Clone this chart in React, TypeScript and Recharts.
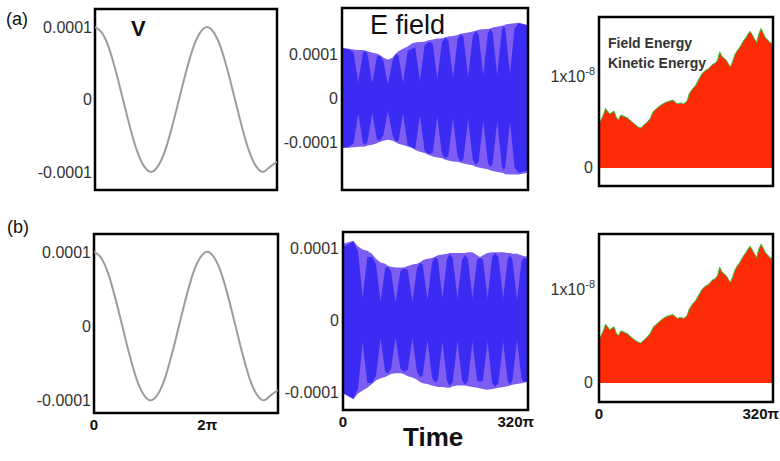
import React from 'react';
import { ComposedChart, Area, Line, XAxis, YAxis, ReferenceArea } from 'recharts';

const FONT = "'Liberation Sans', Arial, Helvetica, sans-serif";

// ---------- V panels (time in units of pi, V in units of 1e-4) ----------
const vTime = [0, 0.125, 0.25, 0.375, 0.5, 0.625, 0.75, 0.875, 1, 1.125, 1.25, 1.375, 1.5, 1.625, 1.75, 1.875, 2, 2.125, 2.25, 2.375, 2.5, 2.625, 2.75, 2.875, 3, 3.125, 3.25];
const vValueA = [1.0, 0.92, 0.71, 0.38, 0.0, -0.38, -0.71, -0.92, -1.0, -0.92, -0.71, -0.38, 0.0, 0.38, 0.71, 0.92, 1.0, 0.92, 0.71, 0.38, 0.0, -0.38, -0.71, -0.92, -1.0, -0.93, -0.86];
const vValueB = [1.0, 0.92, 0.71, 0.38, 0.0, -0.38, -0.71, -0.92, -1.0, -0.92, -0.71, -0.38, 0.0, 0.38, 0.71, 0.92, 1.0, 0.92, 0.71, 0.38, 0.0, -0.38, -0.71, -0.92, -1.0, -0.93, -0.86];
const vYTicks = [-1, 0, 1];
const vYLabels = ['-0.0001', '0', '0.0001'];
const vXTicks = [0, 2];
const vXLabels = ['0', '2π'];

// ---------- E field panels (time in units of pi, E in units of 1e-4) ----------
const eTimeA = [0, 12, 20, 28, 36, 40, 44, 52, 60, 65, 71, 79, 87, 92, 97, 105, 113, 120, 126, 134, 142, 149, 156, 164, 172, 178, 183, 191, 199, 204, 209, 217, 225, 230, 235, 243, 251, 255, 259, 267, 275, 278, 281, 289, 297, 304, 320];
const eUpperA = [1.14, 1.12, 1.1, 1.09, 1.09, 1.08, 1.06, 1.03, 1.01, 0.98, 0.92, 0.87, 0.92, 1.0, 1.06, 1.12, 1.17, 1.24, 1.26, 1.27, 1.28, 1.31, 1.33, 1.35, 1.36, 1.38, 1.4, 1.41, 1.43, 1.46, 1.47, 1.49, 1.51, 1.53, 1.55, 1.56, 1.57, 1.58, 1.6, 1.62, 1.64, 1.65, 1.67, 1.69, 1.7, 1.71, 1.66];
const eLowerA = [-1.14, -1.13, -1.12, -1.11, -1.11, -1.1, -1.08, -1.06, -1.03, -1.0, -0.97, -0.95, -0.97, -1.0, -1.04, -1.07, -1.1, -1.13, -1.18, -1.22, -1.25, -1.29, -1.33, -1.35, -1.37, -1.4, -1.42, -1.44, -1.45, -1.47, -1.49, -1.51, -1.53, -1.56, -1.58, -1.6, -1.62, -1.64, -1.66, -1.68, -1.7, -1.71, -1.73, -1.74, -1.74, -1.74, -1.7];
const eCoreA = [1.13, 1.11, 1.03, 0.36, 1.02, 1.07, 0.99, 0.34, 0.94, 0.97, 0.85, 0.3, 0.85, 0.99, 0.98, 0.35, 1.07, 1.12, 1.15, 0.39, 1.19, 1.28, 1.24, 0.43, 1.27, 1.37, 1.31, 0.46, 1.34, 1.45, 1.38, 0.48, 1.41, 1.52, 1.45, 0.51, 1.47, 1.57, 1.5, 0.52, 1.54, 1.64, 1.57, 0.54, 1.59, 1.7, 1.65];

const eTimeB = [0, 18, 26, 34, 42, 50, 57, 65, 73, 78, 83, 91, 99, 105, 112, 120, 128, 133, 138, 146, 154, 159, 164, 172, 180, 185, 190, 198, 206, 211, 216, 224, 232, 237, 242, 250, 258, 263, 269, 277, 285, 289, 293, 301, 309, 312, 320];
const eUpperB = [1.06, 1.1, 1.02, 0.98, 0.96, 0.92, 0.85, 0.8, 0.78, 0.75, 0.74, 0.73, 0.73, 0.73, 0.75, 0.77, 0.78, 0.8, 0.83, 0.85, 0.86, 0.88, 0.9, 0.91, 0.92, 0.93, 0.93, 0.93, 0.93, 0.93, 0.94, 0.94, 0.9, 0.87, 0.9, 0.93, 0.94, 0.94, 0.94, 0.94, 0.93, 0.93, 0.92, 0.92, 0.9, 0.89, 0.88];
const eLowerB = [-1.02, -1.1, -1.02, -0.98, -0.94, -0.89, -0.84, -0.81, -0.79, -0.77, -0.75, -0.74, -0.74, -0.75, -0.78, -0.8, -0.83, -0.86, -0.88, -0.89, -0.91, -0.92, -0.93, -0.93, -0.94, -0.94, -0.92, -0.91, -0.91, -0.91, -0.92, -0.93, -0.94, -0.95, -0.96, -0.97, -0.96, -0.95, -0.94, -0.93, -0.92, -0.91, -0.9, -0.89, -0.88, -0.87, -0.86];
const eCoreB = [1.01, 1.09, 0.95, 0.31, 0.87, 0.88, 0.78, 0.26, 0.72, 0.74, 0.68, 0.24, 0.67, 0.72, 0.69, 0.25, 0.72, 0.79, 0.77, 0.28, 0.8, 0.87, 0.84, 0.3, 0.85, 0.92, 0.85, 0.29, 0.84, 0.9, 0.85, 0.3, 0.84, 0.86, 0.84, 0.3, 0.87, 0.93, 0.87, 0.3, 0.85, 0.9, 0.84, 0.28, 0.82, 0.86, 0.85];

const eYTicks = [-1, 0, 1];
const eYLabels = ['-0.0001', '0', '0.0001'];
const timeTicks = [0, 320];
const timeLabels = ['0', '320π'];

// ---------- Energy panels (time in units of pi, energy in units of 1e-8) ----------
const energyTime = [0, 4, 8, 12, 16, 20, 24, 28, 32, 36, 40, 44, 48, 52, 56, 60, 66, 72, 77, 82, 88, 94, 100, 106, 112, 118, 124, 130, 136, 140, 144, 150, 156, 162, 166, 172, 178, 184, 190, 196, 202, 208, 214, 218, 222, 226, 230, 234, 238, 242, 246, 250, 254, 258, 262, 266, 270, 274, 278, 282, 286, 290, 294, 298, 302, 306, 310, 314, 320];
const kineticA = [0.48, 0.52, 0.57, 0.64, 0.61, 0.58, 0.6, 0.61, 0.54, 0.52, 0.57, 0.56, 0.55, 0.54, 0.52, 0.5, 0.47, 0.44, 0.43, 0.46, 0.49, 0.53, 0.61, 0.64, 0.67, 0.69, 0.71, 0.72, 0.73, 0.71, 0.69, 0.7, 0.69, 0.72, 0.8, 0.85, 0.89, 0.96, 1.02, 1.05, 1.07, 1.11, 1.13, 1.16, 1.25, 1.2, 1.18, 1.16, 1.12, 1.09, 1.15, 1.22, 1.26, 1.29, 1.33, 1.37, 1.4, 1.44, 1.47, 1.43, 1.39, 1.35, 1.44, 1.5, 1.45, 1.4, 1.38, 1.35, 1.34];
const kineticB = [0.46, 0.5, 0.55, 0.62, 0.59, 0.56, 0.58, 0.59, 0.52, 0.5, 0.55, 0.54, 0.53, 0.52, 0.5, 0.48, 0.45, 0.43, 0.42, 0.45, 0.48, 0.52, 0.59, 0.62, 0.65, 0.68, 0.7, 0.71, 0.72, 0.7, 0.68, 0.69, 0.68, 0.71, 0.78, 0.83, 0.87, 0.93, 0.99, 1.02, 1.04, 1.08, 1.1, 1.13, 1.22, 1.17, 1.15, 1.13, 1.09, 1.06, 1.12, 1.19, 1.23, 1.26, 1.3, 1.34, 1.37, 1.41, 1.44, 1.4, 1.36, 1.32, 1.41, 1.46, 1.42, 1.37, 1.35, 1.32, 1.31];
const energyTicks = [0, 1];

// ---------- tables ----------
const vDataA = vTime.map((t, i) => ({ t, v: vValueA[i] }));
const vDataB = vTime.map((t, i) => ({ t, v: vValueB[i] }));
const eDataA = eTimeA.map((t, i) => ({ t, env: [eLowerA[i], eUpperA[i]], core: [-eCoreA[i], eCoreA[i]] }));
const eDataB = eTimeB.map((t, i) => ({ t, env: [eLowerB[i], eUpperB[i]], core: [-eCoreB[i], eCoreB[i]] }));
const enDataA = energyTime.map((t, i) => ({ t, k: kineticA[i] }));
const enDataB = energyTime.map((t, i) => ({ t, k: kineticB[i] }));

const label = (ticks: number[], labels: string[], v: number) => {
  const i = ticks.indexOf(v);
  return i >= 0 ? labels[i] : '';
};

type Frame = { x: number; y: number; w: number; h: number };
const Y_W = 62;
const M = { top: 4, right: 10, bottom: 2, left: 0 };

const boxStyle = (f: Frame): React.CSSProperties => ({
  position: 'absolute',
  left: f.x - Y_W,
  top: f.y - M.top,
});
const chartW = (f: Frame) => Y_W + f.w + M.right;
const chartH = (f: Frame, xh: number) => M.top + f.h + xh + M.bottom;

const makeXTick = (ticks: number[], labels: string[], last: number) => (props: any) => {
  const { x, y, payload } = props;
  const isLast = payload.value === last;
  return (
    <text
      x={isLast ? x + 6 : x}
      y={y}
      dy="0.71em"
      textAnchor={isLast ? 'end' : 'middle'}
      fontSize={15}
      fontWeight="bold"
      fill="#111"
      fontFamily={FONT}
    >
      {label(ticks, labels, payload.value)}
    </text>
  );
};

const EnergyYTick = (props: any) => {
  const { x, y, payload } = props;
  if (payload.value === 0) {
    return (
      <text x={x - 2} y={y} dy={5} textAnchor="end" fontSize={16} fill="#333" fontFamily={FONT}>0</text>
    );
  }
  return (
    <text x={x} y={y} dy={7} textAnchor="end" fontSize={16} fill="#333" fontFamily={FONT}>
      1x10<tspan dy={-7} fontSize={11}>-8</tspan>
    </text>
  );
};

const yTickStyle = { fontSize: 16, fill: '#333', fontFamily: FONT };

function VPanel({ f, data, domain, showX }: { f: Frame; data: any[]; domain: [number, number]; showX: boolean }) {
  const xh = showX ? 24 : 0;
  return (
    <div style={boxStyle(f)}>
      <ComposedChart width={chartW(f)} height={chartH(f, xh)} data={data} margin={M}>
        <XAxis dataKey="t" type="number" domain={[0, 3.25]} allowDataOverflow ticks={vXTicks} hide={!showX} height={xh}
          axisLine={false} tickLine={false} tickSize={0} tickMargin={6} interval={0}
          tick={makeXTick(vXTicks, vXLabels, -999)} />
        <YAxis type="number" domain={domain} allowDataOverflow ticks={vYTicks} width={Y_W} interval={0}
          axisLine={false} tickLine={false} tickSize={0} tickMargin={3} tick={yTickStyle}
          tickFormatter={(v: number) => label(vYTicks, vYLabels, v)} />
        <Line dataKey="v" type="monotone" stroke="#9c9c9c" strokeWidth={2} dot={false} isAnimationActive={false} />
        <ReferenceArea x1={0} x2={3.25} y1={domain[0]} y2={domain[1]} fill="none" stroke="#000" strokeWidth={2.5} />
      </ComposedChart>
    </div>
  );
}

function EPanel({ f, data, domain, showX }: { f: Frame; data: any[]; domain: [number, number]; showX: boolean }) {
  const xh = showX ? 24 : 0;
  return (
    <div style={boxStyle(f)}>
      <ComposedChart width={chartW(f)} height={chartH(f, xh)} data={data} margin={M}>
        <XAxis dataKey="t" type="number" domain={[0, 320]} allowDataOverflow ticks={timeTicks} hide={!showX} height={xh}
          axisLine={false} tickLine={false} tickSize={0} tickMargin={6} interval={0}
          tick={makeXTick(timeTicks, timeLabels, 320)} />
        <YAxis type="number" domain={domain} allowDataOverflow ticks={eYTicks} width={Y_W} interval={0}
          axisLine={false} tickLine={false} tickSize={0} tickMargin={4} tick={yTickStyle}
          tickFormatter={(v: number) => label(eYTicks, eYLabels, v)} />
        <Area dataKey="env" type="linear" fill="#7d5df2" fillOpacity={1} stroke="none" isAnimationActive={false} />
        <Area dataKey="core" type="linear" fill="#3b2cf4" fillOpacity={1} stroke="none" isAnimationActive={false} />
        <ReferenceArea x1={0} x2={320} y1={domain[0]} y2={domain[1]} fill="none" stroke="#000" strokeWidth={2.5} />
      </ComposedChart>
    </div>
  );
}

function EnPanel({ f, data, domain, showX }: { f: Frame; data: any[]; domain: [number, number]; showX: boolean }) {
  const xh = showX ? 24 : 0;
  return (
    <div style={boxStyle(f)}>
      <ComposedChart width={chartW(f)} height={chartH(f, xh)} data={data} margin={M}>
        <XAxis dataKey="t" type="number" domain={[0, 320]} allowDataOverflow ticks={timeTicks} hide={!showX} height={xh}
          axisLine={false} tickLine={false} tickSize={0} tickMargin={6} interval={0}
          tick={makeXTick(timeTicks, timeLabels, 320)} />
        <YAxis type="number" domain={domain} allowDataOverflow ticks={energyTicks} width={Y_W} interval={0}
          axisLine={false} tickLine={false} tickSize={0} tickMargin={4} tick={EnergyYTick} />
        <Area dataKey="k" type="linear" baseValue={0} fill="#ff2a06" fillOpacity={1} stroke="#2fc63c" strokeWidth={1}
          isAnimationActive={false} />
        <ReferenceArea x1={0} x2={320} y1={domain[0]} y2={domain[1]} fill="none" stroke="#000" strokeWidth={2.5} />
      </ComposedChart>
    </div>
  );
}

export default function App() {
  return (
    <div style={{ position: 'absolute', left: 0, top: 0, width: 780, height: 461, overflow: 'hidden', background: '#fff', fontFamily: FONT }}>
      <VPanel f={{ x: 95, y: 9, w: 182, h: 181 }} data={vDataA} domain={[-1.25, 1.25]} showX={false} />
      <VPanel f={{ x: 94, y: 234, w: 184, h: 179 }} data={vDataB} domain={[-1.17, 1.24]} showX={true} />
      <EPanel f={{ x: 342, y: 8, w: 186, h: 182 }} data={eDataA} domain={[-2.09, 2.045]} showX={false} />
      <EPanel f={{ x: 343, y: 232, w: 185, h: 178 }} data={eDataB} domain={[-1.25, 1.222]} showX={true} />
      <EnPanel f={{ x: 599, y: 17, w: 174, h: 169 }} data={enDataA} domain={[-0.194, 1.624]} showX={false} />
      <EnPanel f={{ x: 599, y: 234, w: 174, h: 168 }} data={enDataB} domain={[-0.2, 1.568]} showX={true} />
      <svg width={780} height={461} style={{ position: 'absolute', left: 0, top: 0, pointerEvents: 'none' }}>
        <text x={6} y={25} fontSize={18} fill="#111" fontFamily={FONT}>(a)</text>
        <text x={7} y={233} fontSize={18} fill="#111" fontFamily={FONT}>(b)</text>
        <text x={131} y={36} fontSize={22} fontWeight="bold" fill="#111" fontFamily={FONT}>V</text>
        <text x={370} y={34} fontSize={27} fill="#111" fontFamily={FONT}>E field</text>
        <text x={608} y={48} fontSize={14} fontWeight="bold" fill="#333" fontFamily={FONT}>Field Energy</text>
        <text x={608} y={68} fontSize={14} fontWeight="bold" fill="#333" fontFamily={FONT}>Kinetic Energy</text>
        <text x={403} y={446} fontSize={26} fontWeight="bold" fill="#111" fontFamily={FONT}>Time</text>
      </svg>
    </div>
  );
}
